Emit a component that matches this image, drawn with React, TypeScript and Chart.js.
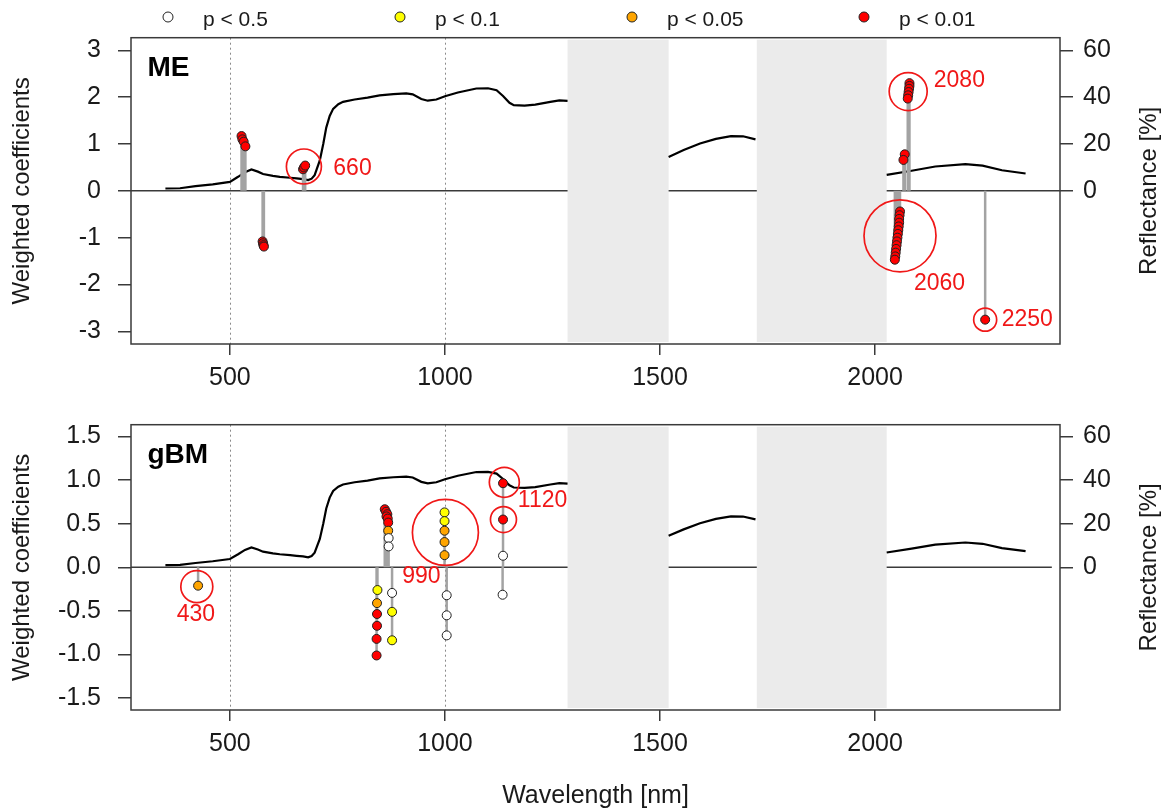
import React, { useEffect, useRef } from 'react';
import { Chart, registerables } from 'chart.js';

Chart.register(...registerables);

const FONT = '"Liberation Sans", Arial, Helvetica, sans-serif';

// ---------- axes ----------
const X_MIN = 270;
const X_MAX = 2430;
const xTicks = [500, 1000, 1500, 2000];
const guideLines = [500, 1000];
const bandStarts = [1285, 1725];
const bandEnds = [1520, 2027];
const reflTicks = [0, 20, 40, 60];

// ---------- reflectance spectrum (%) ----------
const reflWl = [350, 384, 420, 460, 500, 519, 535, 550, 565, 577, 600, 616, 640, 655, 670, 682, 690, 697, 709, 717, 724, 732, 740, 752, 763, 790, 820, 848, 880, 910, 925, 945, 960, 980, 1000, 1030, 1073, 1100, 1120, 1135, 1150, 1160, 1185, 1210, 1245, 1266, 1285, 1400, 1520, 1555, 1593, 1630, 1665, 1693, 1722, 1870, 2027, 2085, 2140, 2210, 2250, 2295, 2350];
const reflPct: (number | null)[] = [1.0, 1.1, 2.0, 2.8, 3.8, 6.0, 8.0, 9.1, 8.2, 7.2, 6.4, 6.0, 5.6, 5.3, 5.0, 4.6, 5.2, 6.7, 13, 20, 27, 32, 35, 37, 38, 39, 39.8, 40.8, 41.3, 41.6, 41.2, 39.2, 38.5, 39.0, 40.4, 42.0, 43.7, 43.8, 43.0, 40.5, 37.6, 36.6, 36.4, 36.8, 38.0, 38.6, 38.4, null, 14.5, 17.4, 20.2, 22.2, 23.4, 23.3, 22.0, null, 6.8, 8.6, 10.4, 11.4, 10.8, 8.8, 7.4];

// ---------- significance classes ----------
const pLabels = ['p < 0.5', 'p < 0.1', 'p < 0.05', 'p < 0.01'];
const pColors = ['#FFFFFF', '#FFFF00', '#FFA500', '#FF0000'];

// ---------- ME panel ----------
const meWl = [527, 529, 532, 536, 576, 577, 578, 579, 670, 672, 675, 2080, 2080, 2079, 2078, 2077, 2076, 2069, 2066, 2058, 2057, 2056, 2056, 2055, 2054, 2053, 2052, 2051, 2050, 2049, 2048, 2047, 2046, 2256];
const meCoef = [1.17, 1.10, 1.05, 0.95, -1.08, -1.12, -1.16, -1.19, 0.46, 0.50, 0.54, 2.30, 2.24, 2.18, 2.11, 2.04, 1.97, 0.78, 0.66, -0.44, -0.52, -0.60, -0.68, -0.76, -0.84, -0.92, -1.00, -1.08, -1.16, -1.24, -1.32, -1.40, -1.47, -2.75];
const meClass = [3, 3, 3, 3, 3, 3, 3, 3, 3, 3, 3, 3, 3, 3, 3, 3, 3, 3, 3, 3, 3, 3, 3, 3, 3, 3, 3, 3, 3, 3, 3, 3, 3, 3];
const meCircleWl = [672, 2077, 2058, 2256];
const meCircleCoef = [0.52, 2.12, -0.96, -2.75];
const meCircleR = [17.5, 19, 36, 11.5];
const meLabelText = ['660', '2080', '2060', '2250'];
const meLabelWl = [785, 2196, 2150, 2354];
const meLabelCoef = [0.48, 2.35, -1.99, -2.76];
const meYTicks = [-3, -2, -1, 0, 1, 2, 3];

// ---------- gBM panel ----------
const gbWl = [426, 843, 842, 842, 842, 841, 841, 860, 863, 866, 864, 867, 868, 868, 869, 869, 877, 877, 877, 999, 999, 999, 999, 999, 1004, 1004, 1004, 1135, 1135, 1135, 1134];
const gbCoef = [-0.21, -0.26, -0.41, -0.535, -0.67, -0.82, -1.01, 0.666, 0.637, 0.609, 0.584, 0.559, 0.513, 0.42, 0.335, 0.24, -0.293, -0.51, -0.836, 0.63, 0.53, 0.42, 0.29, 0.14, -0.32, -0.55, -0.78, 0.964, 0.548, 0.133, -0.314];
const gbClass = [2, 1, 2, 3, 3, 3, 3, 3, 3, 3, 3, 3, 3, 2, 0, 0, 0, 1, 1, 1, 1, 2, 2, 2, 0, 0, 0, 3, 3, 0, 0];
const gbCircleWl = [423, 1001, 1138, 1136];
const gbCircleCoef = [-0.22, 0.40, 0.975, 0.548];
const gbCircleR = [16, 33, 15, 13];
const gbLabelText = ['430', '990', '1120'];
const gbLabelWl = [421, 945, 1227];
const gbLabelCoef = [-0.54, -0.11, 0.76];
const gbYTicks = [-1.5, -1.0, -0.5, 0, 0.5, 1.0, 1.5];

type PanelDef = {
  name: string;
  wl: number[];
  coef: number[];
  cls: number[];
  circWl: number[];
  circCoef: number[];
  circR: number[];
  labText: string[];
  labWl: number[];
  labCoef: number[];
  yTicks: number[];
  yMax: number;
  decimals: number;
  reflPerUnit: number;
  zeroEnd: number;
  canvasH: number;
  padTop: number;
  xAxisH: number;
  showLegend: boolean;
  showXTitle: boolean;
};

const panels: PanelDef[] = [
  {
    name: 'ME', wl: meWl, coef: meCoef, cls: meClass,
    circWl: meCircleWl, circCoef: meCircleCoef, circR: meCircleR,
    labText: meLabelText, labWl: meLabelWl, labCoef: meLabelCoef,
    yTicks: meYTicks, yMax: 3.27, decimals: 0, reflPerUnit: 20, zeroEnd: 2430,
    canvasH: 390, padTop: 37, xAxisH: 46, showLegend: true, showXTitle: false,
  },
  {
    name: 'gBM', wl: gbWl, coef: gbCoef, cls: gbClass,
    circWl: gbCircleWl, circCoef: gbCircleCoef, circR: gbCircleR,
    labText: gbLabelText, labWl: gbLabelWl, labCoef: gbLabelCoef,
    yTicks: gbYTicks, yMax: 1.635, decimals: 1, reflPerUnit: 40, zeroEnd: 2411,
    canvasH: 419, padTop: 13, xAxisH: 99, showLegend: false, showXTitle: true,
  },
];

const INK = '#1a1a1a';
const BOX = '#3a3a3a';

function makeChart(canvas: HTMLCanvasElement, p: PanelDef) {
  const stemData: { x: number; y: number | null }[] = [];
  p.wl.forEach((w, i) => {
    stemData.push({ x: w, y: 0 }, { x: w, y: p.coef[i] }, { x: w, y: null });
  });

  const decor = {
    id: 'decor',
    beforeDatasetsDraw(chart: any) {
      const { ctx, chartArea: a, scales } = chart;
      const x = scales.x;
      const y = scales.y;
      ctx.save();
      // dotted guide lines
      ctx.strokeStyle = '#8a8a8a';
      ctx.lineWidth = 1;
      ctx.setLineDash([2, 3]);
      guideLines.forEach((v) => {
        const px = Math.round(x.getPixelForValue(v)) + 0.5;
        ctx.beginPath();
        ctx.moveTo(px, a.top);
        ctx.lineTo(px, a.bottom);
        ctx.stroke();
      });
      ctx.setLineDash([]);
      // zero line
      ctx.strokeStyle = BOX;
      ctx.lineWidth = 1.5;
      const y0 = y.getPixelForValue(0);
      ctx.beginPath();
      ctx.moveTo(x.getPixelForValue(X_MIN), y0);
      ctx.lineTo(x.getPixelForValue(p.zeroEnd), y0);
      ctx.stroke();
      // water absorption bands
      ctx.fillStyle = '#EBEBEB';
      bandStarts.forEach((s, i) => {
        const l = x.getPixelForValue(s);
        const r = x.getPixelForValue(bandEnds[i]);
        ctx.fillRect(l, a.top + 2, r - l, a.bottom - a.top - 4);
      });
      ctx.restore();
    },
    afterDatasetsDraw(chart: any) {
      const { ctx, chartArea: a, scales } = chart;
      const x = scales.x;
      const y = scales.y;
      ctx.save();
      // annotation labels
      ctx.fillStyle = '#F01818';
      ctx.font = `23px ${FONT}`;
      ctx.textAlign = 'center';
      ctx.textBaseline = 'middle';
      p.labText.forEach((t, i) => {
        ctx.fillText(t, x.getPixelForValue(p.labWl[i]), y.getPixelForValue(p.labCoef[i]));
      });
      // box
      ctx.strokeStyle = BOX;
      ctx.lineWidth = 1.5;
      ctx.strokeRect(a.left, a.top, a.right - a.left, a.bottom - a.top);
      // panel label
      ctx.fillStyle = '#000';
      ctx.font = `bold 28px ${FONT}`;
      ctx.textAlign = 'left';
      ctx.textBaseline = 'alphabetic';
      ctx.fillText(p.name, a.left + 16.5, a.top + 38);
      // right axis title (reads bottom to top)
      ctx.save();
      ctx.translate(1149, (a.top + a.bottom) / 2);
      ctx.rotate(-Math.PI / 2);
      ctx.fillStyle = INK;
      ctx.font = `24px ${FONT}`;
      ctx.textAlign = 'center';
      ctx.textBaseline = 'middle';
      ctx.fillText('Reflectance [%]', 0, 0);
      ctx.restore();
      // legend
      if (p.showLegend) {
        pLabels.forEach((lab, i) => {
          const mx = 168 + i * 232;
          ctx.beginPath();
          ctx.arc(mx, 17, 5, 0, Math.PI * 2);
          ctx.fillStyle = pColors[i];
          ctx.fill();
          ctx.lineWidth = 1;
          ctx.strokeStyle = '#222';
          ctx.stroke();
          ctx.fillStyle = INK;
          ctx.font = `21px ${FONT}`;
          ctx.textAlign = 'left';
          ctx.textBaseline = 'alphabetic';
          ctx.fillText(lab, mx + 35, 26);
        });
      }
      ctx.restore();
    },
  };

  const tickFont = { family: FONT, size: 25 };
  const gridCommon = { drawOnChartArea: false, drawTicks: true, color: BOX, lineWidth: 1.5 };

  return new Chart(canvas, {
    type: 'line',
    data: {
      datasets: [
        {
          type: 'line',
          label: 'reflectance',
          data: reflWl.map((w, i) => ({ x: w, y: reflPct[i] })) as any,
          yAxisID: 'y2',
          borderColor: '#000',
          borderWidth: 2.2,
          pointRadius: 0,
          spanGaps: false,
          tension: 0,
          order: 4,
        },
        {
          type: 'line',
          label: 'stems',
          data: stemData as any,
          yAxisID: 'y',
          borderColor: '#a3a3a3',
          borderWidth: 2.5,
          pointRadius: 0,
          spanGaps: false,
          tension: 0,
          order: 3,
        },
        {
          type: 'scatter',
          label: 'coefficients',
          data: p.wl.map((w, i) => ({ x: w, y: p.coef[i] })),
          yAxisID: 'y',
          pointRadius: 4.5,
          pointBackgroundColor: p.cls.map((c) => pColors[c]),
          pointBorderColor: '#202020',
          pointBorderWidth: 1,
          order: 2,
        },
        {
          type: 'scatter',
          label: 'highlights',
          data: p.circWl.map((w, i) => ({ x: w, y: p.circCoef[i] })),
          yAxisID: 'y',
          pointRadius: p.circR,
          pointBackgroundColor: 'rgba(0,0,0,0)',
          pointBorderColor: '#F01818',
          pointBorderWidth: 1.7,
          order: 1,
        },
      ] as any,
    },
    options: {
      responsive: false,
      animation: false,
      devicePixelRatio: 1,
      events: [],
      layout: { padding: { top: p.padTop, left: 0, right: 0, bottom: 0 } },
      plugins: { legend: { display: false }, tooltip: { enabled: false } },
      scales: {
        x: {
          type: 'linear',
          position: 'bottom',
          min: X_MIN,
          max: X_MAX,
          bounds: 'data',
          afterBuildTicks: (s: any) => { s.ticks = xTicks.map((v) => ({ value: v })); },
          afterFit: (s: any) => { s.height = p.xAxisH; },
          ticks: { font: tickFont, color: INK, padding: 8, maxRotation: 0, autoSkip: false, callback: (v: any) => String(v) },
          grid: { ...gridCommon, tickLength: 11 },
          border: { display: false },
          title: {
            display: p.showXTitle,
            text: 'Wavelength [nm]',
            color: INK,
            font: { family: FONT, size: 25, lineHeight: 1 },
            padding: { top: 0, bottom: 0 },
          },
        },
        y: {
          type: 'linear',
          position: 'left',
          min: -p.yMax,
          max: p.yMax,
          bounds: 'data',
          afterBuildTicks: (s: any) => { s.ticks = p.yTicks.map((v) => ({ value: v })); },
          afterFit: (s: any) => { s.width = 131; },
          ticks: { font: tickFont, color: INK, padding: 17, autoSkip: false, callback: (v: any) => Number(v).toFixed(p.decimals) },
          grid: { ...gridCommon, tickLength: 13 },
          border: { display: false },
          title: {
            display: true,
            text: 'Weighted coefficients',
            color: INK,
            font: { family: FONT, size: 24 },
            padding: { top: 8, bottom: 0 },
          },
        },
        y2: {
          type: 'linear',
          position: 'right',
          min: -p.yMax * p.reflPerUnit,
          max: p.yMax * p.reflPerUnit,
          bounds: 'data',
          afterBuildTicks: (s: any) => { s.ticks = reflTicks.map((v) => ({ value: v })); },
          afterFit: (s: any) => { s.width = 113; },
          ticks: { font: tickFont, color: INK, padding: 10, autoSkip: false, callback: (v: any) => String(v) },
          grid: { ...gridCommon, tickLength: 13 },
          border: { display: false },
        },
      },
    } as any,
    plugins: [decor],
  });
}

export default function App() {
  const topRef = useRef<HTMLCanvasElement>(null);
  const botRef = useRef<HTMLCanvasElement>(null);

  useEffect(() => {
    const charts = [
      makeChart(topRef.current as HTMLCanvasElement, panels[0]),
      makeChart(botRef.current as HTMLCanvasElement, panels[1]),
    ];
    return () => charts.forEach((c) => c.destroy());
  }, []);

  return (
    <div style={{ position: 'absolute', left: 0, top: 0, width: 1173, height: 809, background: '#fff' }}>
      <canvas ref={topRef} width={1173} height={panels[0].canvasH} style={{ position: 'absolute', left: 0, top: 0 }} />
      <canvas ref={botRef} width={1173} height={panels[1].canvasH} style={{ position: 'absolute', left: 0, top: 390 }} />
    </div>
  );
}
